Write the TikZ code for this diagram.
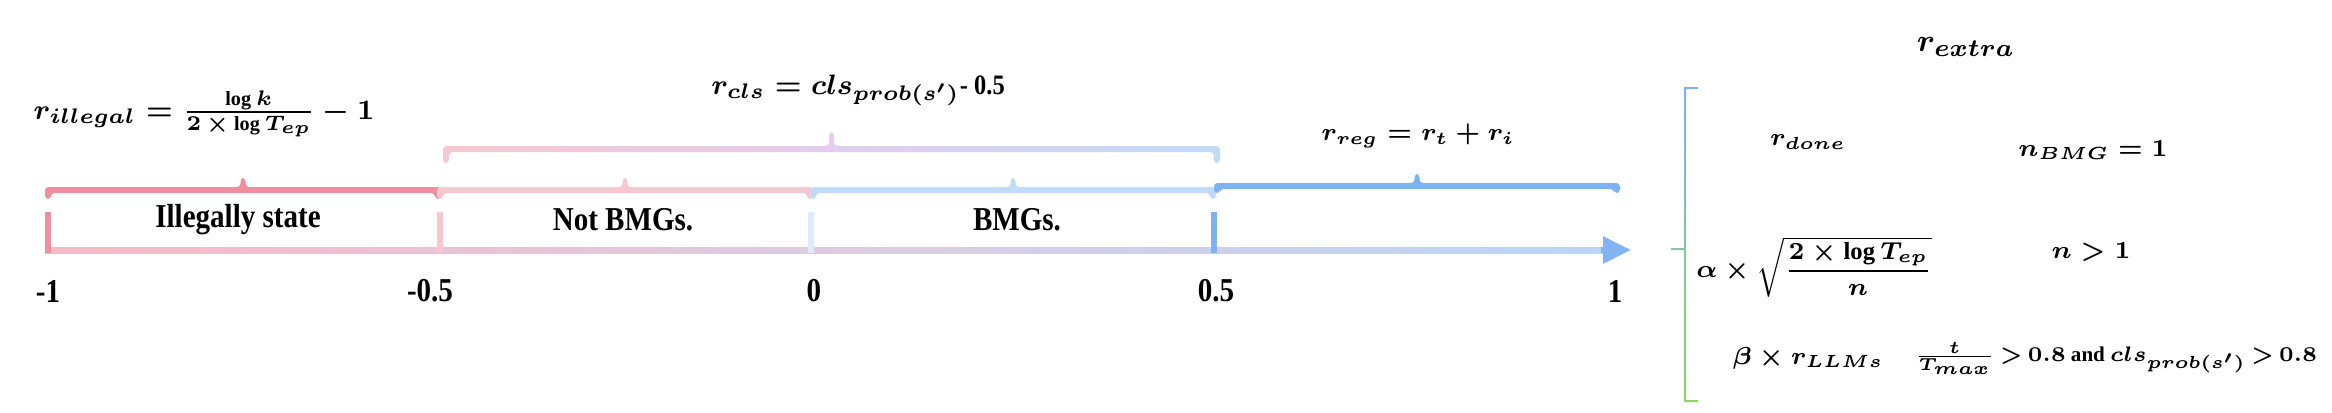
\documentclass[tikz,border=0pt]{standalone}
\usepackage{amsmath}
\usepackage{fontspec}
\setmainfont{Liberation Serif}
\newfontfamily\narrowfont{Liberation Serif}[FakeStretch=0.87]
\usepackage{xcolor}
\usetikzlibrary{arrows.meta, calc}

\definecolor{illpink}{HTML}{EF8E9E}
\definecolor{nbpink}{HTML}{F7C6CF}
\definecolor{bmgblue}{HTML}{C0DAF8}
\definecolor{regblue}{HTML}{7DB1F2}
\definecolor{clsmid}{HTML}{E4CDEE}
\definecolor{zeroblue}{HTML}{DDEBFB}
\definecolor{axpink}{HTML}{F093A3}
\definecolor{axpinkl}{HTML}{F5BAC6}
\definecolor{axmid}{HTML}{DDCCE1}
\definecolor{axbluel}{HTML}{BAD5F6}
\definecolor{axblue}{HTML}{82B3F2}
\definecolor{brtop}{HTML}{7DB1F2}
\definecolor{brmid}{HTML}{7EC7C4}
\definecolor{brbot}{HTML}{8CD65C}

\pgfdeclarehorizontalshading{axisshade}{100bp}{color(0bp)=(axpink); color(25bp)=(axpinkl);
  color(50bp)=(axmid); color(75bp)=(axbluel); color(100bp)=(axblue)}

% bracket over a range: x1, x2, y, leg, tick, shading
\newcommand{\rangebracket}[6]{%
  \shade[#6, rounded corners=1pt]
    (#1-0.03, #3-#4) -- (#1-0.03, #3+0.03)
    -- ({(#1+#2)/2-0.025}, #3+0.03) -- ({(#1+#2)/2-0.025}, #3+#5)
    -- ({(#1+#2)/2+0.025}, #3+#5) -- ({(#1+#2)/2+0.025}, #3+0.03)
    -- (#2+0.03, #3+0.03) -- (#2+0.03, #3-#4)
    -- (#2-0.03, #3-#4) -- (#2-0.03, #3-0.03)
    -- (#1+0.03, #3-0.03) -- (#1+0.03, #3-#4) -- cycle;}

\begin{document}
\begin{tikzpicture}[
  ticklab/.style={font=\narrowfont\bfseries\fontsize{9.5}{11}\selectfont},
  rangelab/.style={font=\narrowfont\bfseries\fontsize{9.5}{11}\selectfont},
  formula/.style={font=\fontsize{7}{9}\selectfont\boldmath},
  cformula/.style={font=\narrowfont\bfseries\fontsize{8}{10}\selectfont\boldmath},
  marker/.style={line width=0.06cm}
]
\useasboundingbox (0,0) rectangle (23.32,4.12);

% --- Axis ---
\coordinate (axL) at (0.45,1.62);
\coordinate (axR) at (16.31,1.62);
\shade[shading=axisshade]
  ($(axL)+(0,-0.03)$) rectangle ($(axR)+(-0.26,0.03)$);
\draw[-{Triangle[length=0.28cm, width=0.26cm]}, line width=0.06cm, axblue]
  ($(axR)+(-0.3,0)$) -- (axR);

% --- Range markers ---
\foreach \x/\c in {0.48/illpink, 4.40/nbpink, 8.11/zeroblue, 12.14/regblue}
  \draw[marker, \c] (\x,1.59) -- (\x,2.00);

% --- Tick labels ---
\foreach \x/\v [count=\i] in {0.48/-1, 4.30/-0.5, 8.14/0, 12.16/0.5, 16.15/1}
  \node[ticklab] (tick\i) at (\x,1.21) {\v};

% --- Brackets ---
\rangebracket{0.48}{4.38}{2.22}{0.09}{0.12}{left color=illpink, right color=illpink}
\rangebracket{4.40}{8.10}{2.22}{0.09}{0.12}{left color=nbpink, right color=nbpink}
\rangebracket{8.13}{12.13}{2.22}{0.09}{0.12}{left color=bmgblue, right color=bmgblue}
\rangebracket{4.46}{12.17}{2.63}{0.14}{0.17}{left color=nbpink, right color=bmgblue, middle color=clsmid}
\rangebracket{12.17}{16.17}{2.26}{0.07}{0.12}{left color=regblue, right color=regblue}

% --- Range labels ---
\node[rangelab] (illegal) at (2.38,1.92) {Illegally state};
\node[rangelab] (notbmg)  at (6.23,1.92) {Not BMGs.};
\node[rangelab] (bmg)     at (10.17,1.92) {BMGs.};

% --- Rewards on the ranges ---
\node[formula, font=\fontsize{8.2}{10}\selectfont\boldmath] (rill) at (2.04,2.98)
  {$r_{illegal} = \frac{\log k}{2\mskip3mu\times\mskip3mu\log T_{ep}} - 1$};
\node[cformula] (rcls) at (8.58,3.22) {$r_{cls} = cls_{prob(s')}$- 0.5};
\node[formula] (rreg) at (14.18,2.76) {$r_{reg} = r_t + r_i$};

% --- Extra reward ---
\node[formula, font=\fontsize{9.5}{11}\selectfont\boldmath] (rextra) at (19.66,3.65) {$r_{extra}$};
\shade[top color=brtop, middle color=brmid, bottom color=brbot]
  (16.98,3.25) -- (16.84,3.25) -- (16.84,1.64) -- (16.71,1.64) -- (16.71,1.62)
  -- (16.84,1.62) -- (16.84,0.10) -- (16.98,0.10) -- (16.98,0.12) -- (16.86,0.12)
  -- (16.86,3.23) -- (16.98,3.23) -- cycle;

\node[formula] (rdone)  at (18.08,2.70) {$r_{done}$};
\node[formula] (nbmg)   at (20.93,2.62) {$n_{BMG} = 1$};
\node[formula] (ralpha) at (18.14,1.45) {$\alpha\times\sqrt{\dfrac{2\times\log T_{ep}}{n}}$};
\node[formula] (ngt)    at (20.91,1.60) {$n > 1$};
\node[formula] (rbeta)  at (18.08,0.54) {$\beta\times r_{LLMs}$};
\node[formula, anchor=west, font=\bfseries\fontsize{6}{8}\selectfont\boldmath] (cond) at (19.02,0.54)
  {\thickmuskip=3mu\relax$\frac{t}{T_{max}} > 0.8$ and $cls_{prob(s')} > 0.8$};

\end{tikzpicture}
\end{document}
